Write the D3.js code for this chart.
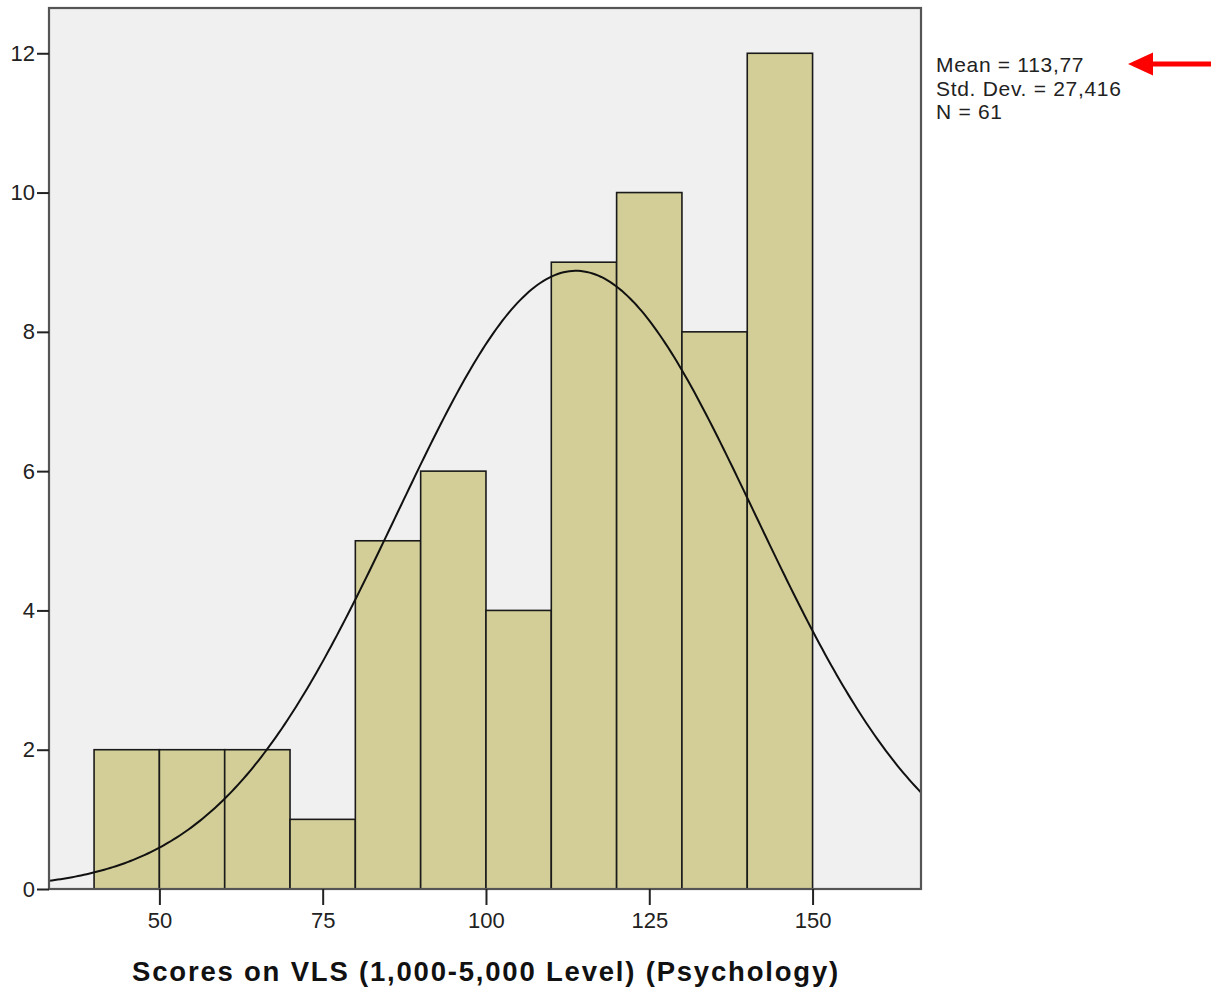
<!DOCTYPE html>
<html>
<head>
<meta charset="utf-8">
<script src="https://cdn.jsdelivr.net/npm/d3@7"></script>
<style>
  body { margin: 0; background: #fff; }
  text { font-family: "Liberation Sans", Arial, sans-serif; }
</style>
</head>
<body>
<div id="chart"></div>
<script>
// histogram bins (lower edge, width 10) and counts
const binStarts = [40, 50, 60, 70, 80, 90, 100, 110, 120, 130, 140];
const counts = [2, 2, 2, 1, 5, 6, 4, 9, 10, 8, 12];
const binWidth = 10;
const xTicks = [50, 75, 100, 125, 150];
const yTicks = [0, 2, 4, 6, 8, 10, 12];
const stats = ["Mean = 113,77", "Std. Dev. = 27,416", "N = 61"];
const mean = 113.77, sd = 27.416, n = 61;

const width = 1211, height = 990;
const plot = { left: 49, top: 8, right: 921, bottom: 889 };

const svg = d3.select("#chart").append("svg")
    .attr("width", width)
    .attr("height", height);

const x = d3.scaleLinear()
    .domain([33.1, 166.6])
    .range([plot.left, plot.right]);

const y = d3.scaleLinear()
    .domain([0, 12.65])
    .range([plot.bottom, plot.top]);

// plot background
svg.append("rect")
    .attr("x", plot.left)
    .attr("y", plot.top)
    .attr("width", plot.right - plot.left)
    .attr("height", plot.bottom - plot.top)
    .attr("fill", "#f0f0f0");

// bars
svg.selectAll(".bar")
    .data(binStarts.map((s, i) => ({ start: s, count: counts[i] })))
    .enter()
    .append("rect")
    .attr("class", "bar")
    .attr("x", d => x(d.start))
    .attr("width", d => x(d.start + binWidth) - x(d.start))
    .attr("y", d => y(d.count))
    .attr("height", d => y(0) - y(d.count))
    .attr("fill", "#d3ce97")
    .attr("stroke", "#1a1a1a")
    .attr("stroke-width", 1.6);

// normal curve
const scale = n * binWidth / (sd * Math.sqrt(2 * Math.PI));
const [x0, x1] = x.domain();
const curvePts = d3.range(0, 301)
    .map(i => x0 + (x1 - x0) * i / 300)
    .map(v => [v, scale * Math.exp(-0.5 * Math.pow((v - mean) / sd, 2))]);

svg.append("path")
    .datum(curvePts)
    .attr("fill", "none")
    .attr("stroke", "#111")
    .attr("stroke-width", 2)
    .attr("d", d3.line().x(d => x(d[0])).y(d => y(d[1])));

// frame
svg.append("rect")
    .attr("x", plot.left)
    .attr("y", plot.top)
    .attr("width", plot.right - plot.left)
    .attr("height", plot.bottom - plot.top)
    .attr("fill", "none")
    .attr("stroke", "#555")
    .attr("stroke-width", 2.2);

// axes
const xAxis = svg.append("g")
    .attr("transform", `translate(0,${plot.bottom})`)
    .call(d3.axisBottom(x).tickValues(xTicks).tickSize(16).tickPadding(7));

const yAxis = svg.append("g")
    .attr("transform", `translate(${plot.left},0)`)
    .call(d3.axisLeft(y).tickValues(yTicks).tickSize(12).tickPadding(2));

[xAxis, yAxis].forEach(g => {
    g.select(".domain").remove();
    g.selectAll(".tick line").attr("stroke", "#222").attr("stroke-width", 2);
    g.selectAll(".tick text")
        .attr("font-family", "Liberation Sans, Arial, sans-serif")
        .attr("font-size", 22)
        .attr("fill", "#222");
});

// x axis title
svg.append("text")
    .attr("x", (plot.left + plot.right) / 2 + 1)
    .attr("y", 981)
    .attr("text-anchor", "middle")
    .attr("font-size", 27.5)
    .attr("font-weight", "bold")
    .attr("letter-spacing", 1.8)
    .attr("fill", "#111")
    .text("Scores on VLS (1,000-5,000 Level) (Psychology)");

// stats box
svg.selectAll(".stat")
    .data(stats)
    .enter()
    .append("text")
    .attr("class", "stat")
    .attr("x", 936)
    .attr("y", (d, i) => 72 + i * 23.5)
    .attr("font-size", 21)
    .attr("letter-spacing", 0.7)
    .attr("fill", "#222")
    .text(d => d);

// red arrow pointing at mean
svg.append("line")
    .attr("x1", 1150).attr("y1", 64)
    .attr("x2", 1211).attr("y2", 64)
    .attr("stroke", "#f00")
    .attr("stroke-width", 5);

svg.append("path")
    .attr("d", "M1128,64 L1153,52.5 L1153,75.5 Z")
    .attr("fill", "#f00");
</script>
</body>
</html>
